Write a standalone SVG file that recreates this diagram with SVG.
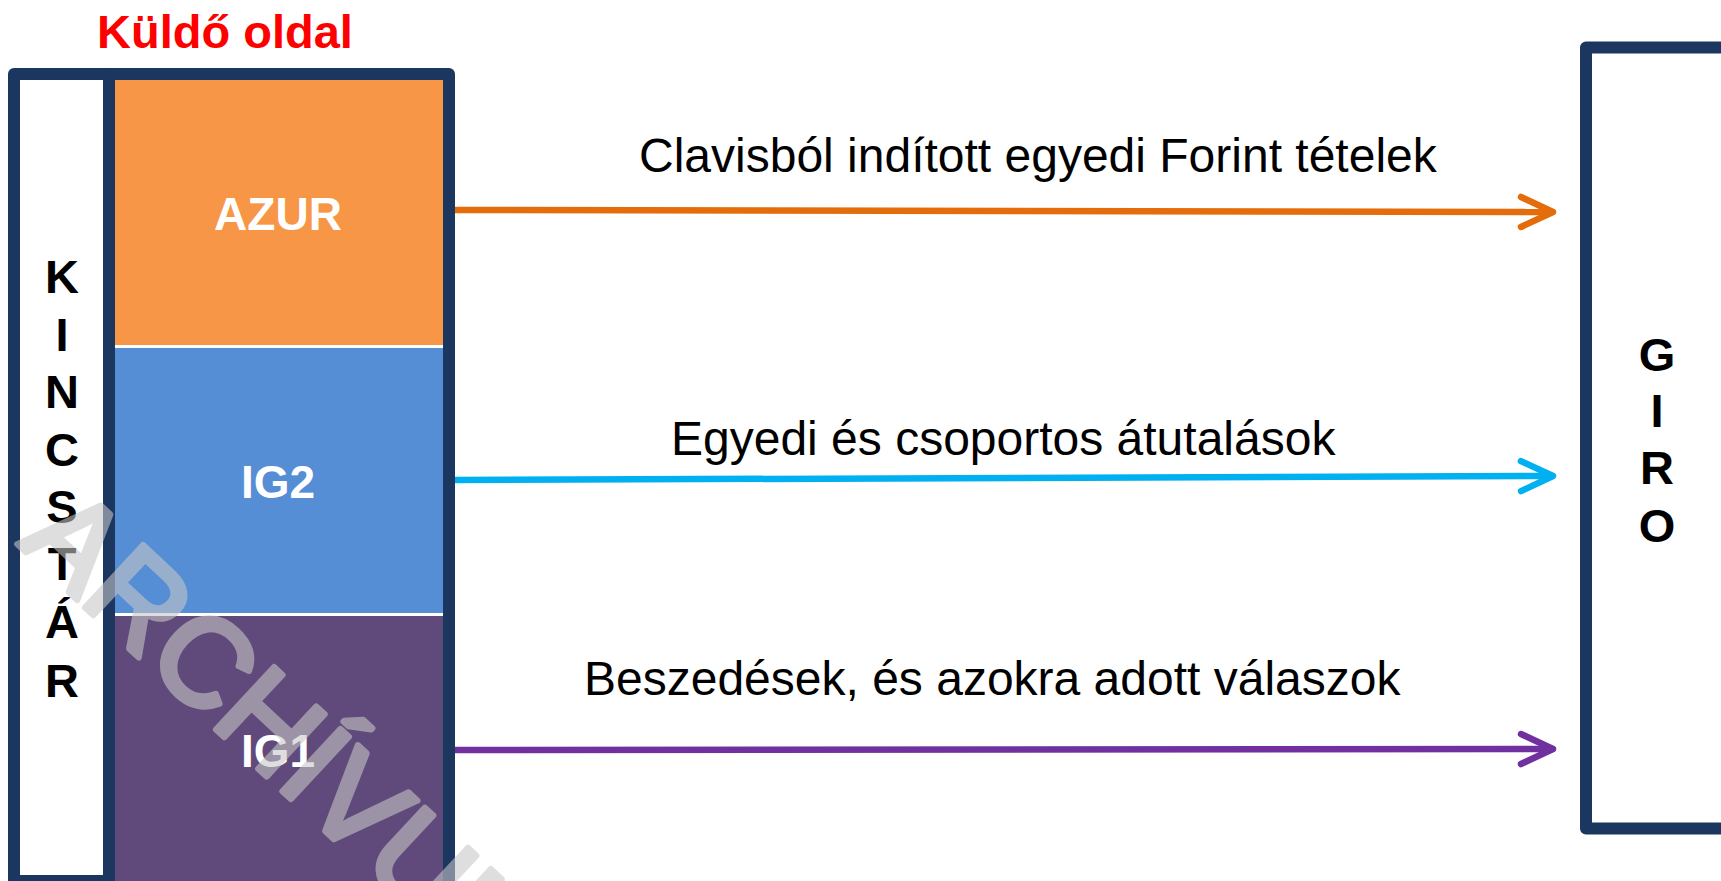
<svg xmlns="http://www.w3.org/2000/svg" width="1721" height="881" viewBox="0 0 1721 881">
<style>
.frame{fill:none;stroke:#1b375f;stroke-width:12;stroke-linejoin:round}
.vlet{font-family:"Liberation Sans",Arial,sans-serif;font-weight:bold;font-size:47px;fill:#000;text-anchor:middle}
.blk{font-family:"Liberation Sans",Arial,sans-serif;font-weight:bold;font-size:46px;fill:#fff;text-anchor:middle}
.lbl{font-family:"Liberation Sans",Arial,sans-serif;font-size:48px;fill:#000}
.conn{fill:none;stroke-width:6.5}
</style>
<defs>
<marker id="ahO" markerUnits="userSpaceOnUse" viewBox="-40 -20 46 40" markerWidth="46" markerHeight="40" refX="0" refY="0" orient="auto"><path d="M-32,-15 L0,0 L-32,15" fill="none" stroke="#e46c0a" stroke-width="6.5" stroke-linecap="round" stroke-linejoin="round"/></marker>
<marker id="ahB" markerUnits="userSpaceOnUse" viewBox="-40 -20 46 40" markerWidth="46" markerHeight="40" refX="0" refY="0" orient="auto"><path d="M-32,-15 L0,0 L-32,15" fill="none" stroke="#00b0f0" stroke-width="6.5" stroke-linecap="round" stroke-linejoin="round"/></marker>
<marker id="ahP" markerUnits="userSpaceOnUse" viewBox="-40 -20 46 40" markerWidth="46" markerHeight="40" refX="0" refY="0" orient="auto"><path d="M-32,-15 L0,0 L-32,15" fill="none" stroke="#7030a0" stroke-width="6.5" stroke-linecap="round" stroke-linejoin="round"/></marker>
</defs>
<rect width="1721" height="881" fill="#fff"/>
<text x="97" y="48" font-family="Liberation Sans, Arial, sans-serif" font-weight="bold" font-size="47" fill="#ff0000">Küldő oldal</text>
<g id="kincstar">
<rect x="14" y="74" width="95" height="807" fill="#fff"/>
<rect class="frame" x="14" y="74" width="95" height="807"/>
<text class="vlet"><tspan x="62" y="293">K</tspan><tspan x="62" y="351">I</tspan><tspan x="62" y="408">N</tspan><tspan x="62" y="466">C</tspan><tspan x="62" y="523">S</tspan><tspan x="62" y="580">T</tspan><tspan x="62" y="638">Á</tspan><tspan x="62" y="697">R</tspan></text>
</g>
<g id="azur">
<rect x="115" y="80" width="330" height="265" fill="#f79646"/>
<text class="blk" x="278" y="230">AZUR</text>
</g>
<g id="ig2">
<rect x="115" y="348" width="330" height="265" fill="#558ed5"/>
<text class="blk" x="278" y="498">IG2</text>
</g>
<g id="ig1">
<rect x="115" y="616" width="330" height="280" fill="#604a7b"/>
<text class="blk" x="278" y="767">IG1</text>
</g>
<g id="sender-frame">
<rect class="frame" x="109" y="74" width="340" height="850"/>
</g>
<g id="giro">
<rect x="1586" y="47.5" width="200" height="781" fill="#fff" class="frame"/>
<text class="vlet"><tspan x="1657" y="371">G</tspan><tspan x="1657" y="427">I</tspan><tspan x="1657" y="484">R</tspan><tspan x="1657" y="542">O</tspan></text>
</g>
<g id="connectors">
<line class="conn" x1="455" y1="210" x2="1553" y2="212" stroke="#e46c0a" marker-end="url(#ahO)"/>
<line class="conn" x1="455" y1="480" x2="1553" y2="476" stroke="#00b0f0" marker-end="url(#ahB)"/>
<line class="conn" x1="455" y1="750" x2="1553" y2="749" stroke="#7030a0" marker-end="url(#ahP)"/>
<text class="lbl" x="639" y="172">Clavisból indított egyedi Forint tételek</text>
<text class="lbl" x="671" y="455">Egyedi és csoportos átutalások</text>
<text class="lbl" x="584" y="695">Beszedések, és azokra adott válaszok</text>
</g>
<g id="watermark" opacity="0.58">
<text transform="translate(17,544) rotate(43)" font-family="Liberation Sans, Arial, sans-serif" font-size="124" fill="#c8c8c8" stroke="#c8c8c8" stroke-width="6" stroke-linejoin="round">ARCHÍVUM</text>
</g>
</svg>
